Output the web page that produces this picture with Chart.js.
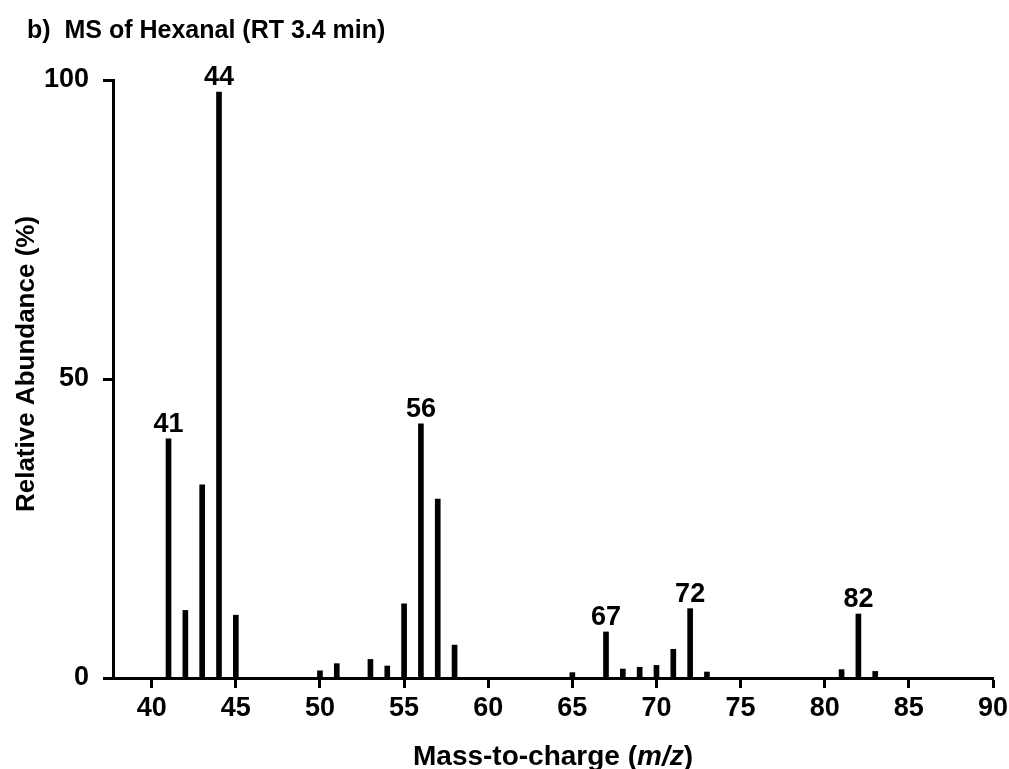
<!DOCTYPE html>
<html>
<head>
<meta charset="utf-8">
<script src="https://cdn.jsdelivr.net/npm/chart.js@4"></script>
<style>
    html, body { margin: 0; padding: 0; background: #ffffff; }
    canvas { display: block; }
</style>
</head>
<body>
<canvas id="msChart" width="1009" height="769"></canvas>
<script>
// Datos del espectro (m/z y abundancia relativa en %)
const mzValues = [41, 42, 43, 44, 45, 50, 51, 53, 54, 55, 56, 57, 58, 65, 67, 68, 69, 70, 71, 72, 73, 81, 82, 83];
const abundances = [40, 11.3, 32.3, 98, 10.5, 1.2, 2.4, 3.1, 2.0, 12.4, 42.5, 29.9, 5.5, 0.9, 7.7, 1.5, 1.8, 2.1, 4.8, 11.6, 1.0, 1.4, 10.7, 1.1];
const labeledPeaks = [41, 44, 56, 67, 72, 82];

const chartTitle = 'b)  MS of Hexanal (RT 3.4 min)';
const yAxisTitle = 'Relative Abundance (%)';
const xAxisTitle = ['Mass-to-charge (', 'm/z', ')'];

const fontFamily = '"Liberation Sans", Arial, Helvetica, sans-serif';

/**
 * Dibuja títulos y etiquetas de los picos
 */
const annotationsPlugin = {
    id: 'annotations',
    afterDraw(chart) {
        const ctx = chart.ctx;
        const xScale = chart.scales.x;
        const yScale = chart.scales.y;
        ctx.save();
        ctx.fillStyle = '#000';

        // Título
        ctx.font = 'bold 25px ' + fontFamily;
        ctx.textAlign = 'left';
        ctx.textBaseline = 'alphabetic';
        ctx.fillText(chartTitle, 27, 38);

        // Etiquetas de los picos
        ctx.font = 'bold 27px ' + fontFamily;
        ctx.textAlign = 'center';
        labeledPeaks.forEach(mz => {
            const idx = mzValues.indexOf(mz);
            if (idx < 0) return;
            const px = xScale.getPixelForValue(mz);
            const py = yScale.getPixelForValue(abundances[idx]);
            ctx.fillText(String(mz), px, py - 7);
        });

        // Título del eje X (m/z en cursiva)
        const parts = [
            { text: xAxisTitle[0], font: 'bold 28px ' + fontFamily },
            { text: xAxisTitle[1], font: 'italic bold 28px ' + fontFamily },
            { text: xAxisTitle[2], font: 'bold 28px ' + fontFamily }
        ];
        let total = 0;
        parts.forEach(p => {
            ctx.font = p.font;
            p.w = ctx.measureText(p.text).width;
            total += p.w;
        });
        let cx = (chart.chartArea.left + chart.chartArea.right) / 2 - total / 2;
        ctx.textAlign = 'left';
        parts.forEach(p => {
            ctx.font = p.font;
            ctx.fillText(p.text, cx, 765);
            cx += p.w;
        });

        // Título del eje Y
        ctx.translate(27, 364);
        ctx.rotate(-Math.PI / 2);
        ctx.font = 'bold 26px ' + fontFamily;
        ctx.textAlign = 'center';
        ctx.textBaseline = 'middle';
        ctx.fillText(yAxisTitle, 0, 0);

        ctx.restore();
    }
};

new Chart(document.getElementById('msChart'), {
    type: 'bar',
    data: {
        datasets: [{
            data: mzValues.map((mz, i) => ({ x: mz, y: abundances[i] })),
            backgroundColor: '#000',
            borderWidth: 0,
            barThickness: 5
        }]
    },
    options: {
        responsive: false,
        animation: false,
        layout: {
            padding: { top: 80, left: 0, right: 16, bottom: 0 }
        },
        plugins: {
            legend: { display: false },
            tooltip: { enabled: false }
        },
        scales: {
            x: {
                type: 'linear',
                min: 37.7,
                max: 90,
                offset: false,
                afterBuildTicks: scale => {
                    scale.ticks = scale.ticks.filter(t => Math.abs(t.value % 5) < 1e-6);
                },
                afterFit: scale => {
                    scale.height = 91;
                    scale.paddingLeft = 0;
                    scale.paddingRight = 0;
                },
                ticks: {
                    stepSize: 5,
                    includeBounds: false,
                    autoSkip: false,
                    color: '#000',
                    padding: 4,
                    maxRotation: 0,
                    font: { family: fontFamily, size: 27, weight: 'bold' }
                },
                grid: {
                    offset: false,
                    drawOnChartArea: false,
                    tickLength: 10,
                    tickWidth: 3,
                    tickColor: '#000'
                },
                border: { display: true, color: '#000', width: 3 }
            },
            y: {
                min: 0,
                max: 100,
                afterFit: scale => {
                    scale.width = 113;
                    scale.paddingTop = 0;
                    scale.paddingBottom = 0;
                },
                ticks: {
                    stepSize: 50,
                    color: '#000',
                    padding: 14,
                    font: { family: fontFamily, size: 27, weight: 'bold' }
                },
                grid: {
                    drawOnChartArea: false,
                    tickLength: 10,
                    tickWidth: 3,
                    tickColor: '#000'
                },
                border: { display: true, color: '#000', width: 3 }
            }
        }
    },
    plugins: [annotationsPlugin]
});
</script>
</body>
</html>
